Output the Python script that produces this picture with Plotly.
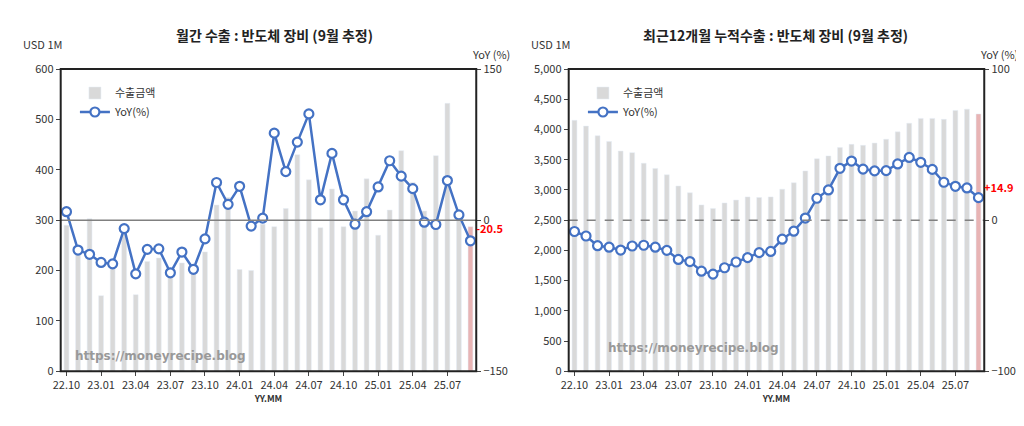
import plotly.graph_objects as go

months = []
for y, ms in [(22, range(10, 13)), (23, range(1, 13)), (24, range(1, 13)), (25, range(1, 10))]:
    for m in ms:
        months.append(f"{y}.{m:02d}")
tick_labels = ["22.10","23.01","23.04","23.07","23.10","24.01","24.04","24.07","24.10","25.01","25.04","25.07"]

monthly_export = [290, 245, 303, 150, 210, 280, 152, 218, 225, 205, 215, 200,
                  237, 330, 345, 202, 200, 292, 287, 323, 430, 380, 285, 362,
                  287, 318, 382, 270, 320, 438, 375, 318, 428, 532, 300, 287]
monthly_yoy = [8.4, -29.7, -33.9, -42, -43.4, -8.4, -53.3, -29, -28.5, -52.3, -31.7, -48.8,
               -18.6, 37.4, 15.7, 33.6, -5.9, 2, 86.4, 48.2, 77.5, 105.5, 20.2, 66.3,
               20.2, -4, 8.4, 33, 59, 43.7, 31.3, -2, -4.3, 39.3, 5.2, -20.5]
cum_export = [4152, 4056, 3897, 3802, 3643, 3617, 3442, 3356, 3250, 3065, 2953, 2752,
              2694, 2784, 2832, 2885, 2874, 2885, 3012, 3118, 3314, 3515, 3563, 3701,
              3754, 3738, 3775, 3839, 3961, 4104, 4184, 4184, 4168, 4316, 4337, 4258]
cum_yoy = [-7.5, -10.5, -16.9, -17.9, -19.8, -17.1, -16.6, -17.9, -20, -26, -27.4, -33.8,
           -35.7, -31.5, -27.7, -24.8, -21.5, -20.7, -12.6, -7.3, 1.4, 14.5, 20, 34.3,
           39.1, 33.8, 32.6, 32.8, 37.2, 41.5, 38.3, 33.6, 25.1, 22.4, 21.3, 14.9]

GRAY = "#d9d9d9"
PINK = "#e8b4b4"
BLUE = "#4472c4"
bar_colors = [GRAY] * (len(months) - 1) + [PINK]
FONT = "Noto Sans CJK KR"
idx = list(range(len(months)))
tick_idx = [months.index(t) for t in tick_labels]
last = len(months) - 1

fig = go.Figure()
def add_panel(bars, yoy, xa, ya, ya2, legend):
    fig.add_trace(go.Bar(x=idx, y=bars, marker_color=bar_colors, width=0.42,
                         name="수출금액", xaxis=xa, yaxis=ya, legend=legend))
    fig.add_trace(go.Scatter(x=idx, y=yoy, mode="lines+markers", name="YoY(%)",
                             line=dict(color=BLUE, width=2.5),
                             marker=dict(symbol="circle", size=9, color="white",
                                         line=dict(color=BLUE, width=2.2)),
                             xaxis=xa, yaxis=ya2, legend=legend))
add_panel(monthly_export, monthly_yoy, "x", "y", "y2", "legend")
add_panel(cum_export, cum_yoy, "x2", "y3", "y4", "legend2")

ydom = [0.136, 0.873]
xcommon = dict(range=[-0.5, last + 0.5], tickvals=tick_idx, ticktext=tick_labels, ticks="outside",
               ticklen=4, tickangle=0, showline=False, zeroline=False,
               tickfont=dict(size=11, color="#333"), showgrid=False,
               title=dict(text="<b>YY.MM</b>", font=dict(size=9, color="#333"), standoff=4))
ycommon = dict(showgrid=False, zeroline=False, ticks="outside", ticklen=4, showline=False,
               tickfont=dict(size=11, color="#333"), domain=ydom)
y2common = dict(showgrid=False, zeroline=False, ticks="outside", ticklen=4, side="right",
                showline=False, tickfont=dict(size=11, color="#333"))

fig.update_layout(
    width=1024, height=426, margin=dict(l=0, r=0, t=0, b=0),
    paper_bgcolor="white", plot_bgcolor="white", font=dict(family=FONT),
    xaxis=dict(domain=[0.044, 0.453], anchor="y", **xcommon),
    xaxis2=dict(domain=[0.544, 0.953], anchor="y3", **xcommon),
    yaxis=dict(range=[0, 600], dtick=100, anchor="x", **ycommon),
    yaxis2=dict(range=[-150, 150], tickvals=[-150, 0, 150], overlaying="y", anchor="x", **y2common),
    yaxis3=dict(range=[0, 5000], dtick=500, tickformat=",", anchor="x2", **ycommon),
    yaxis4=dict(range=[-100, 100], tickvals=[-100, 0, 100], overlaying="y3", anchor="x2", **y2common),
    legend=dict(x=0.058, y=0.85, xanchor="left", yanchor="top", bgcolor="rgba(0,0,0,0)",
                font=dict(size=11, color="#333"), tracegroupgap=0),
    legend2=dict(x=0.558, y=0.85, xanchor="left", yanchor="top", bgcolor="rgba(0,0,0,0)",
                 font=dict(size=11, color="#333"), tracegroupgap=0),
    shapes=[
        dict(type="line", xref="x domain", yref="y2", x0=0, x1=1, y0=0, y1=0,
             line=dict(color="#808080", width=1.5), layer="above"),
        dict(type="line", xref="x2 domain", yref="y4", x0=0, x1=1, y0=0, y1=0,
             line=dict(color="#808080", width=1.5, dash="dash"), layer="above"),
        dict(type="rect", xref="x domain", yref="y domain", x0=0, x1=1, y0=0, y1=1,
             line=dict(color="#222", width=2), layer="above"),
        dict(type="rect", xref="x2 domain", yref="y3 domain", x0=0, x1=1, y0=0, y1=1,
             line=dict(color="#222", width=2), layer="above"),
    ],
)

ann = []
ann.append(dict(text="<b>월간 수출 : 반도체 장비 (9월 추정)</b>", x=0.254, y=0.985, xref="paper", yref="paper",
                xanchor="center", showarrow=False, font=dict(size=14, color="#222"), yanchor="top"))
ann.append(dict(text="<b>최근12개월 누적수출 : 반도체 장비 (9월 추정)</b>", x=0.748, y=0.985, xref="paper", yref="paper",
                xanchor="center", showarrow=False, font=dict(size=14, color="#222"), yanchor="top"))
for x0, x1 in [(0.005, 0.447), (0.505, 0.947)]:
    ann.append(dict(text="USD 1M", x=x0, y=0.935, xref="paper", yref="paper", xanchor="left",
                    yanchor="middle", showarrow=False, font=dict(size=11, color="#333")))
    ann.append(dict(text="YoY (%)", x=x1, y=0.91, xref="paper", yref="paper", xanchor="left",
                    yanchor="middle", showarrow=False, font=dict(size=11, color="#333")))
ann.append(dict(text="<b>https://moneyrecipe.blog</b>", x=0.6, y=30, xref="x", yref="y",
                xanchor="left", showarrow=False, font=dict(size=12, color="#999", family="DejaVu Sans")))
ann.append(dict(text="<b>https://moneyrecipe.blog</b>", x=2.7, y=380, xref="x2", yref="y3",
                xanchor="left", showarrow=False, font=dict(size=12, color="#999", family="DejaVu Sans")))
ann.append(dict(text=f"<b>{monthly_yoy[-1]:.1f}</b>", x=last, y=-8, xref="x", yref="y2",
                xanchor="left", xshift=4, showarrow=False, font=dict(size=11, color="red")))
ann.append(dict(text=f"<b>{cum_yoy[-1]:+.1f}</b>", x=last, y=22, xref="x2", yref="y4",
                xanchor="left", xshift=4, showarrow=False, font=dict(size=11, color="red")))
fig.update_layout(annotations=ann)

fig.write_html("out.html")
